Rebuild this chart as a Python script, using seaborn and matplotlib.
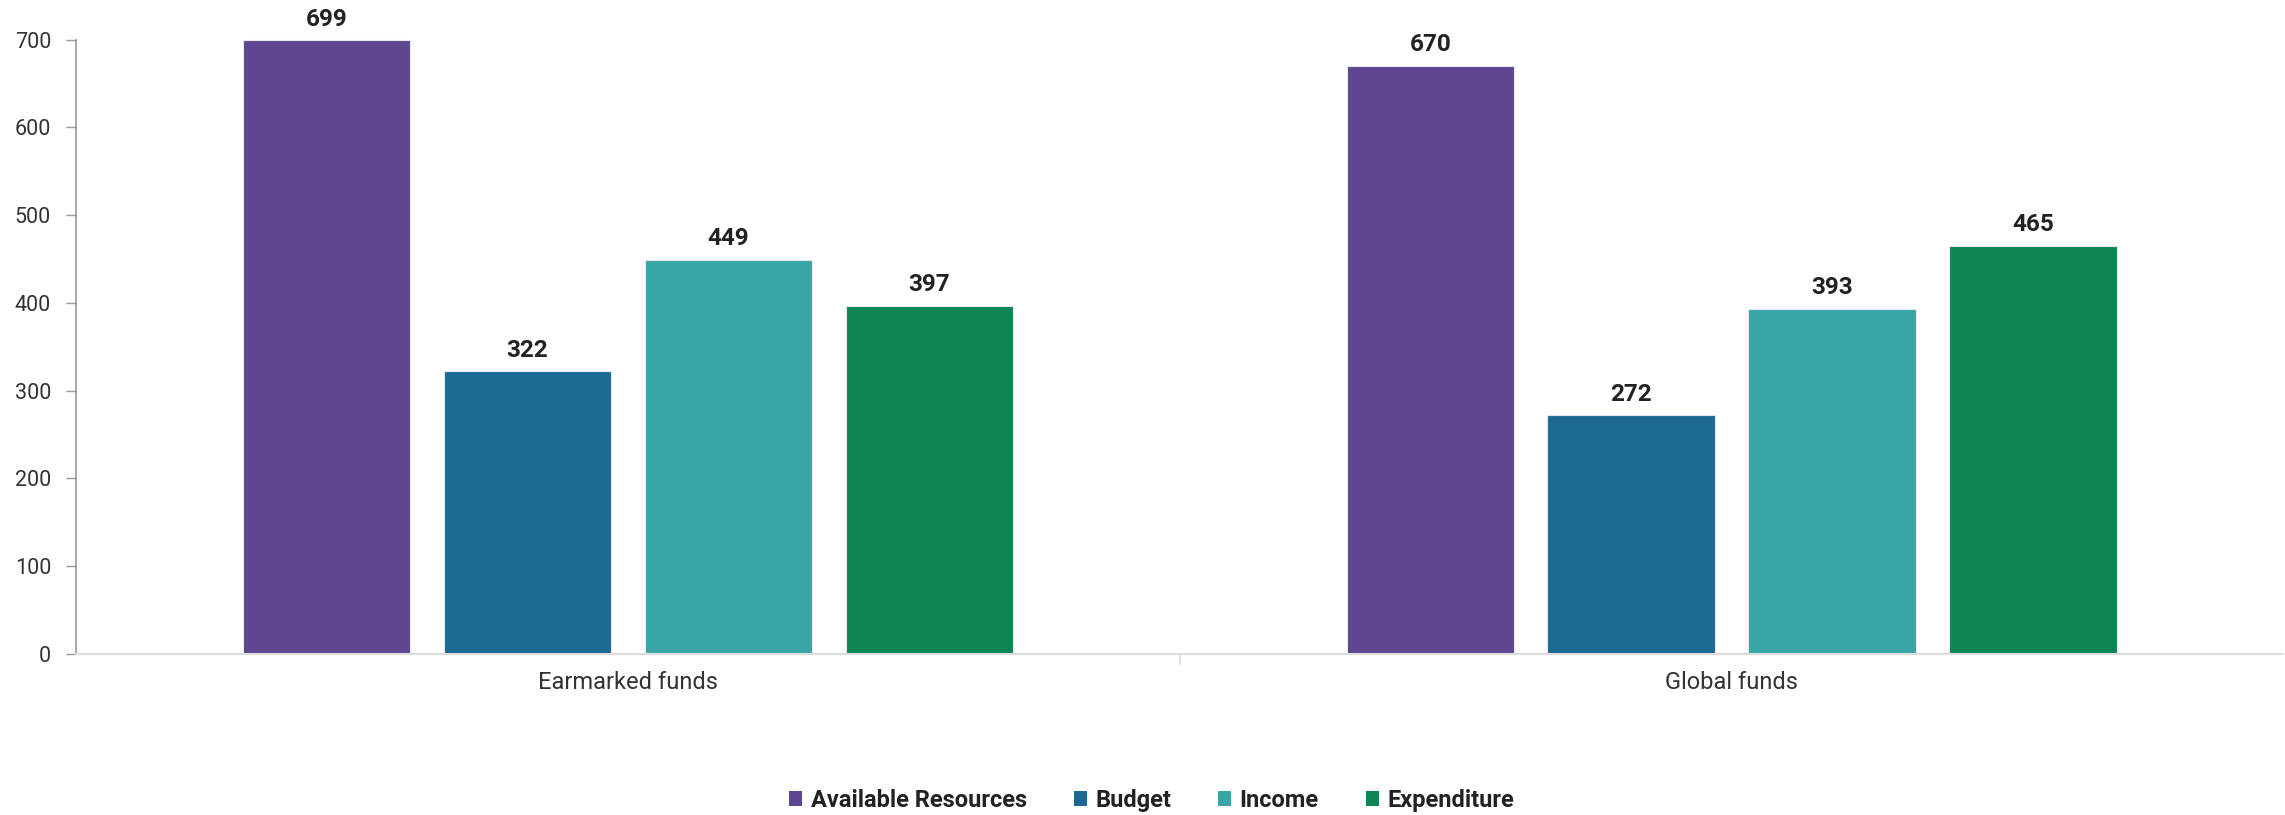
import matplotlib
matplotlib.use("Agg")
import matplotlib.pyplot as plt
import seaborn as sns
import pandas as pd
from matplotlib.patches import Patch
from matplotlib.ticker import FixedLocator

categories = ["Earmarked funds", "Global funds"]
series = ["Available Resources", "Budget", "Income", "Expenditure"]
available = [699, 670]
budget = [322, 272]
income = [449, 393]
expenditure = [397, 465]
colors = ["#5F4690", "#1D6996", "#38A6A5", "#0F8554"]
yticks = [0, 100, 200, 300, 400, 500, 600, 700]

rows = []
for s, vals in zip(series, [available, budget, income, expenditure]):
    for c, v in zip(categories, vals):
        rows.append({"category": c, "series": s, "value": v})
df = pd.DataFrame(rows)

sns.set_theme(style="white")
plt.rcParams['font.family'] = ['Roboto', 'DejaVu Sans']

fig = plt.figure(figsize=(22.85, 8.15), dpi=100)
ax = fig.add_axes([0.0333, 0.1975, 0.966, 0.8025])

sns.barplot(data=df, x="category", y="value", hue="series", order=categories,
            hue_order=series, palette=colors, saturation=1, width=0.728, gap=0.167,
            edgecolor="#e6e6f0", linewidth=0.8, ax=ax, legend=False)

for cont in ax.containers:
    ax.bar_label(cont, padding=7, fontsize=17.5, fontweight="bold", color="#222222")

ax.set_xlim(-0.5, 1.5)
ax.set_ylim(0, 745)
ax.set_yticks(yticks)
ax.set_xlabel("")
ax.set_ylabel("")

for side in ["top", "right"]:
    ax.spines[side].set_visible(False)
ax.spines["left"].set_color("#999999")
ax.spines["left"].set_linewidth(1.2)
ax.spines["left"].set_bounds(0, 700)
ax.spines["bottom"].set_color("#dddddd")
ax.spines["bottom"].set_linewidth(1.5)

ax.tick_params(axis="y", which="major", left=True, length=7, width=1.0,
               color="#999999", labelsize=15.5, labelcolor="#333333", pad=11)
ax.tick_params(axis="x", which="major", bottom=False, labelsize=17,
               labelcolor="#333333", pad=6)
ax.xaxis.set_minor_locator(FixedLocator([0.5]))
ax.tick_params(axis="x", which="minor", bottom=True, length=8, width=1.2,
               color="#dddddd")

handles = [Patch(facecolor=c, edgecolor="none", label=s) for s, c in zip(series, colors)]
leg = fig.legend(handles=handles, loc="center", bbox_to_anchor=(0.504, 0.018),
                 ncol=4, frameon=False, handlelength=0.55, handleheight=0.55,
                 handletextpad=0.35, columnspacing=2.0,
                 prop={"size": 17, "weight": "bold"})
for t in leg.get_texts():
    t.set_color("#222222")

fig.savefig("out.png", dpi=100)
